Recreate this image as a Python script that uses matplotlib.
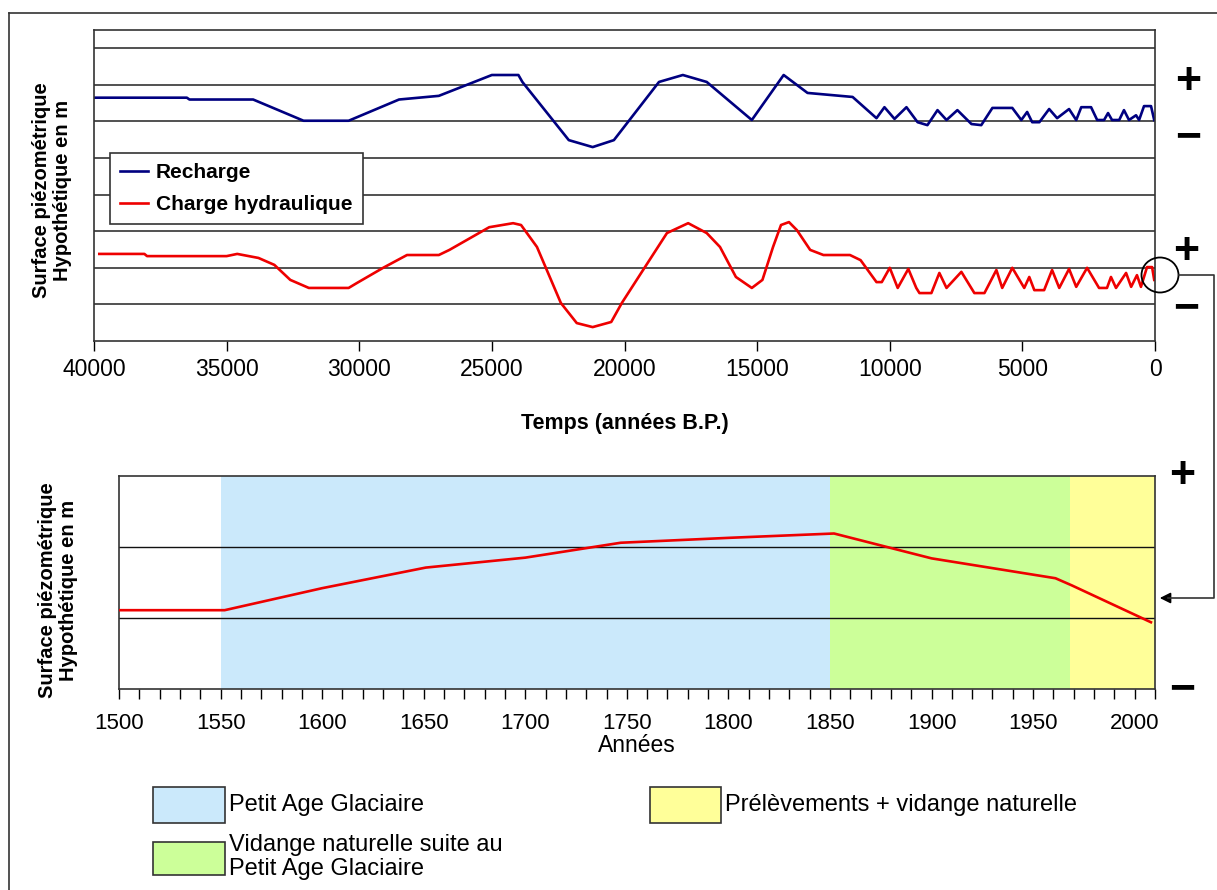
#!/usr/bin/env python3
"""Recharge / charge hydraulique over 40000 years, then zoom on 1500-2010."""
import matplotlib
matplotlib.use("Agg")
import matplotlib.pyplot as plt
from matplotlib.patches import Ellipse, Rectangle, FancyArrowPatch
from matplotlib.lines import Line2D

plt.rcParams["font.family"] = ["Liberation Sans", "DejaVu Sans"]

W, H = 1217, 890

# --- top chart: years B.P. vs hypothetical level (arbitrary units) ---
recharge_years = [40000, 36500, 36400, 34000, 32100, 30400, 28500, 27000, 25000, 24000,
                  23850, 22100, 21200, 20400, 18700, 17800, 16900, 15200, 14000, 13100,
                  11400, 10500, 10200, 9820, 9370, 8950, 8580, 8200, 7860, 7450,
                  6920, 6550, 6130, 5380, 5040, 4820, 4630, 4360, 3990, 3690,
                  3240, 2970, 2780, 2410, 2180, 1920, 1770, 1620, 1350, 1170,
                  980, 715, 600, 414, 150, 30]
recharge_level = [6.65, 6.65, 6.60, 6.60, 6.02, 6.02, 6.60, 6.70, 7.27, 7.27,
                  7.08, 5.49, 5.30, 5.49, 7.08, 7.27, 7.08, 6.04, 7.27, 6.78,
                  6.67, 6.09, 6.39, 6.07, 6.39, 5.98, 5.90, 6.31, 6.04, 6.31,
                  5.93, 5.90, 6.37, 6.37, 6.04, 6.26, 5.98, 5.98, 6.34, 6.09,
                  6.34, 6.04, 6.39, 6.39, 6.04, 6.04, 6.23, 6.04, 6.04, 6.31,
                  6.04, 6.17, 6.04, 6.42, 6.42, 6.04]

charge_years = [39800, 38100, 38000, 35000, 34600, 33800, 33200, 32600, 31900, 30400,
                30100, 29100, 28200, 27000, 26600, 25100, 24200, 23900, 23300, 22400,
                21800, 21200, 20500, 20100, 19300, 18400, 17600, 16900, 16400, 15800,
                15200, 14800, 14400, 14100, 13800, 13500, 13000, 12500, 11500, 11100,
                10500, 10300, 10000, 9700, 9300, 9000, 8880, 8430, 8130, 7860,
                7300, 6810, 6430, 5980, 5760, 5380, 4930, 4740, 4550, 4180,
                3880, 3610, 3240, 2970, 2560, 2110, 1810, 1660, 1470, 1090,
                900, 680, 530, 300, 110, 30]
charge_level = [2.38, 2.38, 2.32, 2.32, 2.38, 2.27, 2.08, 1.67, 1.45, 1.45,
                1.58, 2.00, 2.35, 2.35, 2.49, 3.11, 3.22, 3.17, 2.57, 1.04,
                0.49, 0.38, 0.52, 1.04, 1.94, 2.95, 3.22, 2.95, 2.57, 1.75,
                1.45, 1.67, 2.57, 3.17, 3.25, 3.03, 2.49, 2.35, 2.35, 2.21,
                1.61, 1.61, 2.00, 1.45, 1.97, 1.45, 1.31, 1.31, 1.86, 1.45,
                1.89, 1.31, 1.31, 1.94, 1.45, 2.00, 1.45, 1.75, 1.39, 1.39,
                1.94, 1.45, 1.97, 1.48, 2.00, 1.45, 1.45, 1.75, 1.45, 1.86,
                1.48, 1.80, 1.48, 2.02, 2.02, 1.67]

top_ticks = [40000, 35000, 30000, 25000, 20000, 15000, 10000, 5000, 0]

# --- bottom chart: recent centuries ---
hist_years = [1500, 1552, 1600, 1651, 1700, 1747, 1801, 1852, 1900, 1961, 1969, 2008]
hist_level = [1.11, 1.11, 1.42, 1.71, 1.85, 2.06, 2.13, 2.19, 1.84, 1.56, 1.46, 0.94]

period_names = ["Petit Age Glaciaire",
                "Vidange naturelle suite au\nPetit Age Glaciaire",
                "Prélèvements + vidange naturelle"]
period_start = [1550, 1850, 1968]
period_end = [1850, 1968, 2010]
period_colors = ["#cbe9fb", "#ccff99", "#ffff99"]

bottom_ticks = [1500, 1550, 1600, 1650, 1700, 1750, 1800, 1850, 1900, 1950, 2000]


def fx(x):
    return x / W


def fy(y):
    return 1 - y / H


fig = plt.figure(figsize=(W / 100, H / 100), dpi=100)

# outer frame (top and left edges only)
fig.add_artist(Line2D([fx(9), fx(W)], [fy(13), fy(13)], color="#333333", lw=1.2))
fig.add_artist(Line2D([fx(9), fx(9)], [fy(13), fy(H)], color="#333333", lw=1.2))

# ---------------- top chart ----------------
ax1 = fig.add_axes([fx(94), fy(341), fx(1155) - fx(94), fy(30) - fy(341)])
ax1.plot(recharge_years, recharge_level, color="#000080", lw=1.9, label="Recharge")
ax1.plot(charge_years, charge_level, color="#ee0000", lw=1.9, label="Charge hydraulique")
ax1.set_xlim(40000, 0)
ax1.set_ylim(0, 8.5)
ax1.set_yticks(range(1, 9))
ax1.grid(axis="y", color="#222222", lw=1.1)
ax1.set_axisbelow(True)
ax1.tick_params(axis="y", left=False, labelleft=False)
ax1.set_xticks(top_ticks)
ax1.tick_params(axis="x", length=7, width=1, direction="out", labelsize=16.5, pad=5)
for s in ax1.spines.values():
    s.set_color("#333333")
    s.set_linewidth(1.2)
ax1.set_xlabel("Temps (années B.P.)", fontsize=15.5, fontweight="bold", labelpad=23)
leg = ax1.legend(loc="upper left", bbox_to_anchor=(fx(110), fy(153)),
                 bbox_transform=fig.transFigure, borderaxespad=0, fancybox=False,
                 edgecolor="#333333", framealpha=1, handlelength=1.3, handletextpad=0.4,
                 borderpad=0.5, labelspacing=0.6, prop={"size": 15, "weight": "bold"})
leg.get_frame().set_linewidth(1.2)

fig.text(fx(52), fy(190), "Surface piézométrique\nHypothétique en m", rotation=90,
         ha="center", va="center", multialignment="center", fontsize=14.5,
         fontweight="bold", linespacing=1.1)

# ---------------- bottom chart ----------------
ax2 = fig.add_axes([fx(119), fy(689), fx(1155) - fx(119), fy(476) - fy(689)])
for start, end, col in zip(period_start, period_end, period_colors):
    ax2.axvspan(start, end, color=col, lw=0, zorder=0)
ax2.plot(hist_years, hist_level, color="#ee0000", lw=1.9, zorder=3)
ax2.set_xlim(1500, 2010)
ax2.set_ylim(0, 3)
ax2.set_yticks([1, 2])
ax2.grid(axis="y", color="#111111", lw=1.0, zorder=1)
ax2.tick_params(axis="y", left=False, labelleft=False)
ax2.set_xticks(bottom_ticks)
ax2.set_xticks(range(1500, 2011, 10), minor=True)
ax2.tick_params(axis="x", which="both", length=7, width=1, direction="out",
                labelsize=16, pad=10)
for s in ax2.spines.values():
    s.set_color("#333333")
    s.set_linewidth(1.2)
ax2.set_xlabel("Années", fontsize=16.5, labelpad=0)

fig.text(fx(58), fy(590), "Surface piézométrique\nHypothétique en m", rotation=90,
         ha="center", va="center", multialignment="center", fontsize=14.5,
         fontweight="bold", linespacing=1.1)

# plus / minus markers on the right
for x, y, sign in [(1188, 83, "+"), (1188, 138, "\u2212"), (1186, 252, "+"),
                   (1186, 309, "\u2212"), (1182, 477, "+"), (1182, 690, "\u2212")]:
    fig.text(fx(x), fy(y), sign, ha="center", va="center", fontsize=32, fontweight="bold")

# circle around the recent part and connector to the bottom chart
fig.add_artist(Ellipse((fx(1160), fy(275)), 37 / W, 35 / H, fill=False,
                       edgecolor="black", lw=1.3, transform=fig.transFigure))
fig.add_artist(Line2D([fx(1179), fx(1214), fx(1214), fx(1168)],
                      [fy(275), fy(275), fy(598), fy(598)], color="#333333", lw=1.2))
fig.add_artist(FancyArrowPatch(
    (fx(1172), fy(598)), (fx(1157), fy(598)), transform=fig.transFigure,
    arrowstyle="-|>", mutation_scale=16, color="black", lw=1.2))

# bottom legend
legend_boxes = [(153, 787, 225, 823), (153, 842, 225, 875), (650, 787, 721, 823)]
legend_text_pos = [(229, 805), (229, 857), (725, 805)]
for (x0, y0, x1, y1), (tx, ty), name, col in zip(legend_boxes, legend_text_pos,
                                                 period_names, period_colors):
    fig.add_artist(Rectangle((fx(x0), fy(y1)), fx(x1) - fx(x0), fy(y0) - fy(y1),
                             facecolor=col, edgecolor="#333333", lw=1.2,
                             transform=fig.transFigure))
    fig.text(fx(tx), fy(ty), name, ha="left", va="center", fontsize=17, linespacing=1.15)

fig.savefig("out.png", dpi=100)
